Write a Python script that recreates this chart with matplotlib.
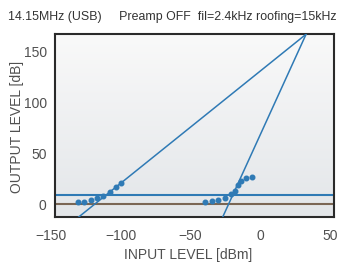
import matplotlib.pyplot as plt
import matplotlib.transforms as mtransforms
import numpy as np

plt.rcParams['font.family'] = ['Liberation Sans', 'DejaVu Sans']

# measured points, left group (fundamental) and right group (IMD)
fund_x = [-133.7, -129.2, -124.4, -119.7, -115.4, -110.6, -106.5, -102.5]
fund_y = [2.2, 2.7, 4.1, 6.4, 8.6, 12.5, 16.9, 21.1]
imd_x = [-42.5, -37.7, -32.9, -28.1, -23.8, -21.0, -19.0, -16.9, -13.3, -9.0]
imd_y = [2.2, 3.4, 4.7, 6.7, 10.0, 13.5, 18.8, 23.3, 25.7, 27.3]

# reference lines
intercept = (30, 167)
slope_fund = 1.1
slope_imd = 3.0
noise_floor = 9
zero_level = 0

xticks = [-150, -100, -50, 0, 50]
yticks = [0, 50, 100, 150]

blue = '#2f7ab5'
brown = '#7a6654'
txt = '#505050'

fig = plt.figure(figsize=(3.37, 2.62), dpi=100)
ax = fig.add_axes([55/337, 45/262, 279/337, 183/262])

# light gray gradient background
grad = np.linspace(0, 1, 100).reshape(-1, 1)
ax.imshow(grad, extent=[0, 1, 0, 1], transform=ax.transAxes, aspect='auto',
          cmap=plt.matplotlib.colors.LinearSegmentedColormap.from_list('bg', ['#e3e6e9', '#f9f9f9']),
          origin='lower', zorder=0)

ax.set_xlim(-150, 50)
ax.set_ylim(-12.3, 167.2)

ax.axhline(zero_level, color=brown, lw=1.5, zorder=2)
ax.axhline(noise_floor, color=blue, lw=1.5, zorder=2)

y0 = -12.3
for s in [slope_fund, slope_imd]:
    xa = intercept[0] - (intercept[1] - y0) / s
    ax.plot([xa, intercept[0]], [y0, intercept[1]], color=blue, lw=1.1, zorder=3)

ax.plot(fund_x, fund_y, 'o', color=blue, ms=3.3, zorder=4)
ax.plot(imd_x, imd_y, 'o', color=blue, ms=3.3, zorder=4)

ax.set_xticks(xticks)
ax.set_yticks(yticks)
ax.set_xticklabels(['\u2212150', '\u2212100', '\u221250', '0', '50'])
ax.tick_params(length=0, labelsize=10, labelcolor=txt)
ax.tick_params(axis='x', pad=9)
ax.tick_params(axis='y', pad=6)
off = mtransforms.ScaledTranslation(-4/100, 0, fig.dpi_scale_trans)
for lab in ax.get_xticklabels():
    lab.set_transform(lab.get_transform() + off)

for sp in ax.spines.values():
    sp.set_color('#2a2a2a')
    sp.set_linewidth(1.5)

fig.text(188/337, 1 - 255/262, 'INPUT LEVEL [dBm]', ha='center', va='center', fontsize=10, color=txt)
fig.text(17/337, 1 - 127/262, 'OUTPUT LEVEL [dB]', ha='center', va='center', rotation=90,
         fontsize=10, color=txt)
fig.text(8/337, 1 - 17/262, '14.15MHz (USB)     Preamp OFF  fil=2.4kHz roofing=15kHz',
         ha='left', va='center', fontsize=8.9, color='#333333')

fig.savefig('out.png', dpi=100)
